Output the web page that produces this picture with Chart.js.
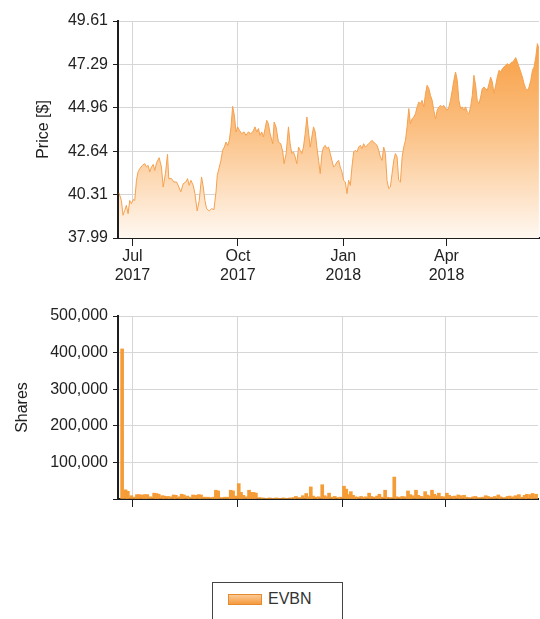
<!DOCTYPE html>
<html>
<head>
<meta charset="utf-8">
<title>EVBN</title>
<script src="https://cdn.jsdelivr.net/npm/chart.js@4.4.1/dist/chart.umd.min.js"></script>
<style>
  body { margin: 0; background: #fff; }
  #wrap { position: relative; width: 540px; height: 619px; overflow: hidden; }
  #priceChart { position: absolute; left: 0; top: 0; }
  #volChart { position: absolute; left: 0; top: 296px; }
  #legend { position: absolute; left: 212px; top: 582px; width: 131px; height: 45px; border: 1px solid #444; box-sizing: border-box; }
  #legend .sw { position: absolute; left: 15px; top: 11px; width: 34px; height: 11px; box-sizing: border-box;
    border: 1px solid #e58a2e; background: linear-gradient(to bottom, #fcc995, #f59b3e); }
  #legend .lbl { position: absolute; left: 55px; top: 7px; font: 16px 'Liberation Sans', Arial, sans-serif; color: #333; }
</style>
</head>
<body>
<div id="wrap">
  <canvas id="priceChart" width="540" height="300"></canvas>
  <canvas id="volChart" width="540" height="224"></canvas>
  <div id="legend"><div class="sw"></div><div class="lbl">EVBN</div></div>
</div>
<script>
// days counted from 1 Jul 2017
var tickDays = [0, 92, 184, 274];
var tickLabels = [['Jul', '2017'], ['Oct', '2017'], ['Jan', '2018'], ['Apr', '2018']];
var priceTicks = [37.99, 40.31, 42.64, 44.96, 47.29, 49.61];
var volTicks = [0, 100000, 200000, 300000, 400000, 500000];

var priceDays = [
  -11.7, -9.7, -8.2, -6.7, -5.3, -3.8, -2.4, -0.9, 0.6, 2.0, 3.5, 4.9, 6.4, 8.7, 10.8, 12.2, 13.7, 15.1, 16.6, 18.1,
  19.5, 21.0, 23.3, 25.3, 26.8, 28.8, 30.6, 31.7, 34.1, 36.1, 38.5, 40.5, 42.2, 44.3, 46.6, 48.1, 49.5, 51.0, 53.0, 54.5,
  56.5, 58.3, 60.3, 61.8, 63.2, 64.7, 67.0, 69.1, 71.1, 72.9, 74.0, 75.8, 77.2, 78.7, 80.2, 81.6, 83.1, 84.5, 86.0, 87.4,
  88.9, 90.4, 91.8, 93.3, 95.3, 97.4, 99.1, 101.1, 103.2, 104.9, 107.0, 108.4, 109.9, 111.3, 112.8, 114.3, 115.7, 117.2, 118.6,
  120.1, 122.4, 123.6, 125.3, 127.4, 129.4, 131.2, 132.3, 134.1, 136.1, 137.6, 139.0, 140.5, 142.0, 143.4, 144.9, 146.3, 147.8, 149.2, 150.7,
  152.2, 153.6, 155.1, 156.5, 158.0, 159.5, 160.9, 162.4, 163.8, 165.3, 166.7, 168.2, 169.7, 171.1, 172.6, 174.0, 175.5, 176.9, 178.4, 179.9,
  181.3, 182.8, 184.2, 185.7, 187.2, 188.6, 190.1, 191.5, 193.0, 194.4, 195.9, 197.4, 198.8, 200.3, 201.7, 203.2, 204.6, 206.1, 207.6, 209.0,
  210.5, 211.9, 213.4, 214.8, 216.3, 217.8, 219.2, 220.7, 222.1, 223.6, 225.0, 226.5, 228.0, 229.4, 230.9, 232.3, 233.8, 235.3, 236.7, 238.2,
  239.6, 241.1, 242.5, 244.0, 245.5, 246.9, 248.4, 249.8, 251.3, 252.7, 254.2, 255.7, 257.1, 258.6, 260.0, 261.5, 262.9, 264.4, 265.9, 267.3,
  268.8, 270.2, 271.7, 273.2, 274.6, 276.1, 277.5, 279.0, 280.4, 281.9, 283.4, 284.8, 286.3, 287.7, 289.2, 290.6, 292.1, 293.6, 295.0, 296.5,
  297.9, 299.4, 300.8, 302.3, 303.8, 305.2, 306.7, 308.1, 309.6, 311.1, 312.5, 314.0, 315.4, 316.9, 318.3, 319.8, 321.3, 322.7, 324.2, 325.6,
  327.1, 328.5, 330.0, 331.5, 332.9, 334.4, 335.8, 337.3, 338.8, 340.2, 341.7, 343.1, 344.6, 346.0, 347.5, 349.0, 350.4, 351.9, 353.3, 354.6
];
var prices = [
  40.40, 40.01, 39.21, 39.47, 39.74, 39.29, 40.00, 39.83, 40.05, 40.00, 41.08, 41.53, 41.70, 41.88, 41.97, 41.79, 41.88, 41.53, 41.79, 41.93,
  41.61, 42.01, 42.29, 41.79, 40.72, 41.44, 42.47, 41.17, 41.17, 40.99, 40.99, 40.72, 40.46, 40.90, 40.99, 41.17, 40.81, 41.08, 40.81, 40.37,
  39.44, 40.01, 41.26, 40.72, 40.01, 39.56, 39.44, 39.56, 39.51, 40.46, 41.35, 41.79, 42.15, 42.69, 42.86, 43.13, 42.95, 43.22, 43.94, 45.04,
  44.56, 43.67, 43.94, 43.76, 43.58, 43.67, 43.49, 43.67, 43.58, 43.67, 43.94, 43.67, 43.85, 43.49, 43.67, 43.40, 43.85, 44.29, 44.11,
  43.58, 43.04, 44.20, 43.94, 43.13, 43.04, 42.60, 41.97, 42.51, 43.94, 43.04, 42.51, 42.60, 42.33, 41.97, 42.86, 42.69, 42.51, 42.86, 43.58,
  44.47, 43.67, 42.86, 43.40, 43.94, 43.67, 42.86, 42.15, 41.44, 42.51, 42.86, 42.95, 42.78, 42.86, 42.51, 42.15, 41.79, 41.88, 42.06, 42.15,
  41.79, 41.53, 41.08, 40.99, 40.37, 41.08, 40.81, 41.79, 42.60, 42.69, 42.60, 42.86, 42.95, 42.78, 43.04, 42.86, 42.95, 43.04, 43.13, 43.22,
  43.13, 43.04, 42.95, 42.69, 42.33, 42.15, 42.86, 42.51, 41.08, 40.64, 40.72, 41.44, 42.15, 42.51, 42.33, 41.08, 40.99, 42.33, 42.86, 43.22,
  43.94, 44.92, 44.11, 44.38, 44.47, 44.65, 45.01, 45.27, 45.18, 45.36, 45.01, 45.72, 46.17, 45.99, 45.63, 45.36, 44.83, 44.38, 44.83, 45.01,
  45.09, 45.01, 45.09, 44.92, 44.83, 45.01, 45.36, 45.90, 46.43, 46.88, 46.43, 45.36, 44.92, 45.01, 44.83, 45.01, 44.74, 44.65, 45.01, 45.63,
  46.70, 46.17, 45.36, 45.18, 45.54, 45.99, 46.07, 45.99, 45.90, 46.25, 46.61, 46.34, 45.72, 46.17, 46.61, 46.97, 46.88, 47.06, 47.15, 47.24,
  47.33, 47.24, 47.36, 47.42, 47.50, 47.65, 47.42, 47.15, 46.88, 46.61, 46.25, 45.99, 45.90, 46.07, 46.43, 46.97, 47.15, 47.69, 48.40, 48.13
];

var volDays = [
  -9, -6, -4, -1, 2, 4, 6, 9, 11, 13, 16, 19, 21, 23, 26, 28, 31, 33, 36, 38,
  41, 43, 45, 48, 50, 53, 55, 58, 60, 63, 66, 69, 71, 73, 75, 78, 81, 84, 86, 88,
  90, 93, 95, 97, 100, 102, 104, 106, 108, 111, 114, 117, 120, 123, 126, 129, 132, 135, 138, 141,
  143, 146, 149, 152, 154, 156, 158, 161, 163, 166, 168, 170, 172, 175, 177, 180, 182, 185, 187, 189,
  191, 193, 195, 197, 200, 202, 204, 207, 209, 212, 214, 216, 218, 221, 223, 226, 229, 231, 234, 236,
  239, 241, 243, 245, 248, 250, 253, 256, 258, 260, 262, 264, 266, 268, 270, 273, 275, 277, 280, 282,
  285, 287, 290, 292, 295, 298, 300, 303, 306, 309, 311, 314, 317, 320, 322, 325, 328, 330, 333, 335,
  338, 340, 343, 345, 348, 350, 353
];
var volumes = [
  410000, 25000, 21000, 9000, 5000, 12000, 12000, 11000, 12000, 12000, 6000, 16000, 15000, 13000, 9000, 8000, 7000, 6000, 11000, 10000,
  6000, 13000, 11000, 8000, 5000, 11000, 10000, 12000, 11000, 5000, 5000, 4000, 5000, 24000, 22000, 4000, 5000, 5000, 24000, 22000,
  8000, 42000, 18000, 10000, 6000, 24000, 18000, 18000, 16000, 4000, 3000, 2000, 3000, 2000, 3000, 2000, 3000, 2000, 3000, 4000,
  7000, 4000, 9000, 15000, 6000, 33000, 8000, 5000, 6000, 39000, 9000, 6000, 16000, 5000, 7000, 4000, 5000, 35000, 27000, 12000,
  20000, 10000, 6000, 5000, 7000, 4000, 6000, 16000, 7000, 5000, 8000, 13000, 5000, 24000, 5000, 4000, 60000, 6000, 5000, 7000,
  6000, 22000, 12000, 9000, 24000, 10000, 7000, 20000, 11000, 8000, 24000, 13000, 9000, 16000, 7000, 6000, 16000, 10000, 7000, 8000,
  11000, 9000, 10000, 5000, 4000, 6000, 7000, 4000, 5000, 9000, 7000, 5000, 7000, 11000, 6000, 4000, 7000, 8000, 6000, 9000,
  12000, 5000, 10000, 13000, 12000, 15000, 13000
];

var xMin = -12.6, xMax = 354.7;

Chart.defaults.font.family = "'Liberation Sans', Arial, sans-serif";
Chart.defaults.font.size = 16;
Chart.defaults.color = '#222';

var gridColor = '#d6d6d6';
var axisColor = '#1e1e1e';

function xAxis(showLabels, height) {
  return {
    type: 'linear', min: xMin, max: xMax, offset: false,
    afterBuildTicks: function(s) { s.ticks = tickDays.map(function(v) { return {value: v}; }); },
    afterFit: function(s) { s.height = height; },
    ticks: {
      display: showLabels, autoSkip: false, maxRotation: 0, padding: 1,
      callback: function(v, i) { return tickLabels[i]; }
    },
    grid: { color: gridColor, tickColor: axisColor, tickLength: 8, offset: false },
    border: { color: axisColor, width: 2 }
  };
}

new Chart(document.getElementById('priceChart'), {
  type: 'line',
  data: {
    datasets: [{
      label: 'EVBN',
      data: priceDays.map(function(d, i) { return {x: d, y: prices[i]}; }),
      borderColor: '#f4a14f',
      borderWidth: 1,
      pointRadius: 0,
      tension: 0,
      fill: 'start',
      backgroundColor: function(context) {
        var chart = context.chart;
        var area = chart.chartArea;
        if (!area) return 'rgba(247,160,70,0.5)';
        var g = chart.ctx.createLinearGradient(0, area.top, 0, area.bottom);
        g.addColorStop(0, '#f7952f');
        g.addColorStop(0.5, '#fbc083');
        g.addColorStop(1, '#fff8f1');
        return g;
      }
    }]
  },
  options: {
    responsive: false,
    animation: false,
    layout: { padding: { top: 21, right: 1, left: 0, bottom: 0 } },
    plugins: { legend: { display: false }, tooltip: { enabled: false } },
    scales: {
      x: xAxis(true, 62),
      y: {
        min: 37.99, max: 49.61,
        afterBuildTicks: function(s) { s.ticks = priceTicks.map(function(v) { return {value: v}; }); },
        afterFit: function(s) { s.width = 118; },
        ticks: { padding: 5, callback: function(v) { return v.toFixed(2); } },
        title: { display: true, text: 'Price [$]', padding: { top: 34, bottom: 0 } },
        grid: { color: gridColor, tickColor: axisColor, tickLength: 5 },
        border: { color: axisColor, width: 2 }
      }
    }
  }
});

new Chart(document.getElementById('volChart'), {
  type: 'bar',
  data: {
    datasets: [{
      label: 'EVBN',
      data: volDays.map(function(d, i) { return {x: d, y: volumes[i]}; }),
      backgroundColor: '#f59c36',
      borderColor: '#e8891f',
      borderWidth: 0,
      barThickness: 3
    }]
  },
  options: {
    responsive: false,
    animation: false,
    layout: { padding: { top: 20, right: 2, left: 0, bottom: 0 } },
    plugins: { legend: { display: false }, tooltip: { enabled: false } },
    scales: {
      x: xAxis(false, 21),
      y: {
        min: 0, max: 500000,
        afterBuildTicks: function(s) { s.ticks = volTicks.map(function(v) { return {value: v}; }); },
        afterFit: function(s) { s.width = 118; },
        ticks: { padding: 5, callback: function(v) { return v === 0 ? '' : v.toLocaleString('en-US'); } },
        title: { display: true, text: 'Shares', padding: { top: 13, bottom: 0 } },
        grid: { color: gridColor, tickColor: axisColor, tickLength: 5 },
        border: { color: axisColor, width: 2 }
      }
    }
  }
});
</script>
</body>
</html>
